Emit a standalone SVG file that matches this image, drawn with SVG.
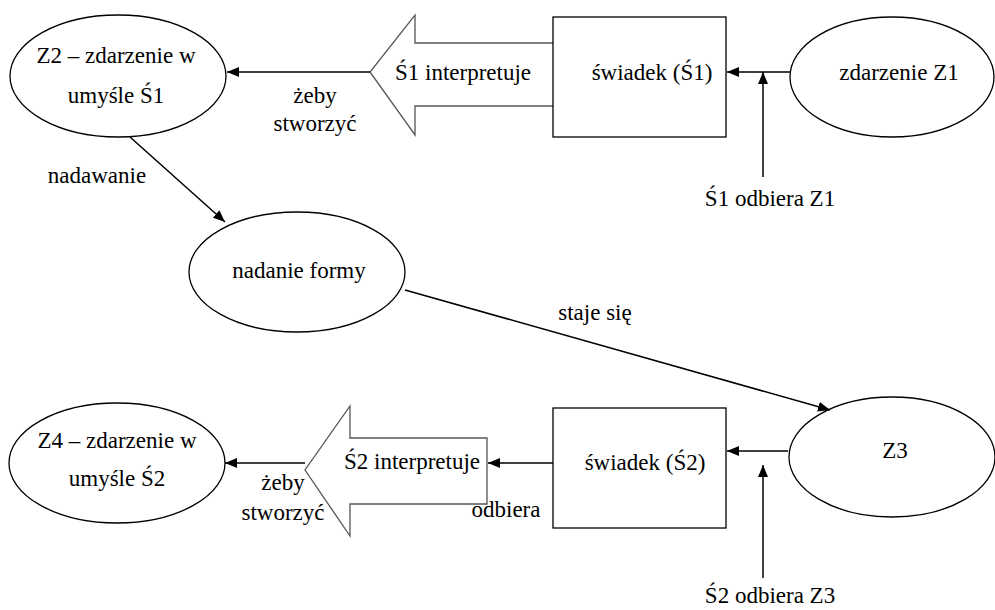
<svg xmlns="http://www.w3.org/2000/svg" width="995" height="610" viewBox="0 0 995 610">
<style>
  text { font-family: "Liberation Serif", "DejaVu Serif", "Times New Roman", serif; font-size: 23px; fill: #000; text-anchor: middle; }
  .shape { fill: #fff; stroke: #000; stroke-width: 1.3; }
  .blk { fill: #fff; stroke: #555; stroke-width: 1.3; }
  .conn { stroke: #000; stroke-width: 1.5; fill: none; marker-end: url(#ah); }
</style>
<defs>
  <marker id="ah" viewBox="0 0 12 10" refX="12" refY="5" markerWidth="12" markerHeight="10" markerUnits="userSpaceOnUse" orient="auto">
    <path d="M0,0 L12,5 L0,10 Z" fill="#000"/>
  </marker>
</defs>
<rect width="995" height="610" fill="#fff"/>

<g id="z2">
  <ellipse class="shape" cx="118" cy="76" rx="108" ry="61"/>
  <text x="116" y="63">Z2 – zdarzenie w</text>
  <text x="116" y="103">umyśle Ś1</text>
</g>
<g id="s1interp">
  <path class="blk" d="M553,43 L415,43 L415,15 L370,72 L415,135 L415,106 L553,106"/>
  <text x="463" y="80">Ś1 interpretuje</text>
</g>
<g id="swiadek1">
  <rect class="shape" x="553" y="17" width="173" height="120"/>
  <text x="652" y="80">świadek (Ś1)</text>
</g>
<g id="z1">
  <ellipse class="shape" cx="892" cy="77" rx="102" ry="60"/>
  <text x="899" y="80">zdarzenie Z1</text>
</g>
<g id="forma">
  <ellipse class="shape" cx="297" cy="272" rx="108" ry="60"/>
  <text x="299" y="278">nadanie formy</text>
</g>
<g id="z3">
  <ellipse class="shape" cx="892" cy="457" rx="103" ry="60"/>
  <text x="895" y="458">Z3</text>
</g>
<g id="swiadek2">
  <rect class="shape" x="553" y="408" width="173" height="120"/>
  <text x="645" y="470">świadek (Ś2)</text>
</g>
<g id="s2interp">
  <path class="blk" d="M487,438 L350,438 L350,406 L305,470 L350,536 L350,504 L487,504 Z"/>
  <text x="412" y="469">Ś2 interpretuje</text>
</g>
<g id="z4">
  <ellipse class="shape" cx="117" cy="463" rx="108" ry="60"/>
  <text x="117" y="448">Z4 – zdarzenie w</text>
  <text x="117" y="486">umyśle Ś2</text>
</g>

<g id="connectors">
  <line class="conn" x1="370" y1="72" x2="227" y2="72"/>
  <line class="conn" x1="790" y1="72" x2="727" y2="72"/>
  <line class="conn" x1="763" y1="177" x2="763" y2="72"/>
  <line class="conn" x1="130" y1="137" x2="225" y2="222"/>
  <line class="conn" x1="405" y1="290" x2="830" y2="410"/>
  <line class="conn" x1="788" y1="451" x2="727" y2="451"/>
  <line class="conn" x1="763" y1="578" x2="763" y2="465"/>
  <line class="conn" x1="553" y1="463" x2="488" y2="463"/>
  <line class="conn" x1="305" y1="463" x2="225" y2="463"/>
</g>

<g id="labels">
  <text x="315" y="103">żeby</text>
  <text x="315" y="131">stworzyć</text>
  <text x="97" y="183">nadawanie</text>
  <text x="595" y="320">staje się</text>
  <text x="770" y="206">Ś1 odbiera Z1</text>
  <text x="283" y="490">żeby</text>
  <text x="283" y="520">stworzyć</text>
  <text x="506" y="517">odbiera</text>
  <text x="770" y="603">Ś2 odbiera Z3</text>
</g>
</svg>
